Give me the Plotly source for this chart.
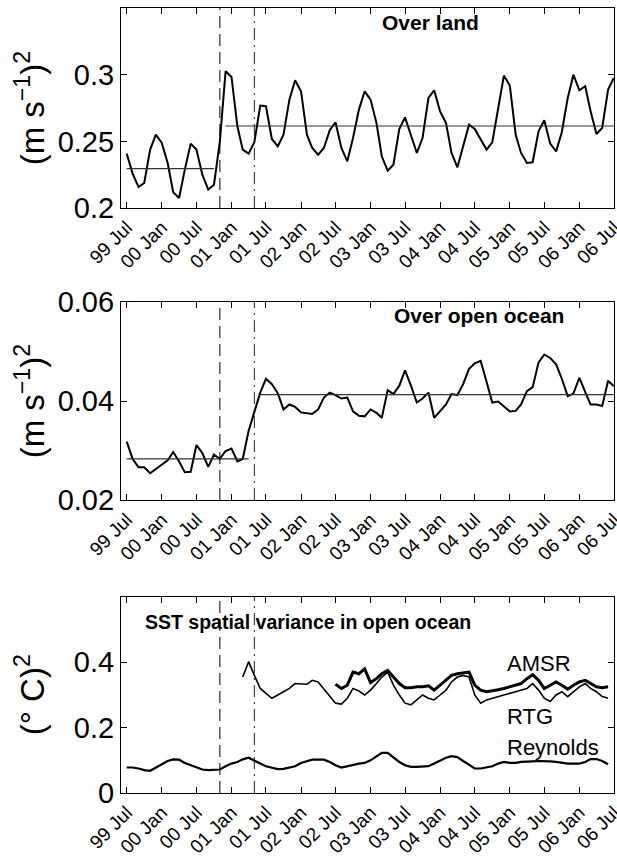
import pandas as pd
import plotly.graph_objects as go
from plotly.subplots import make_subplots

# ---------------- data ----------------
months = pd.date_range("1999-07-01", periods=85, freq="MS")

land = [0.2408, 0.2258, 0.2158, 0.2188, 0.2438, 0.2550, 0.2488, 0.2338, 0.2118, 0.2075,
        0.2288, 0.2483, 0.2438, 0.2250, 0.2138, 0.2175, 0.2500, 0.3025, 0.2983, 0.2613,
        0.2438, 0.2408, 0.2493, 0.2768, 0.2763, 0.2518, 0.2463, 0.2550, 0.2813, 0.2958,
        0.2875, 0.2550, 0.2450, 0.2400, 0.2450, 0.2583, 0.2643, 0.2450, 0.2350, 0.2525,
        0.2738, 0.2875, 0.2813, 0.2638, 0.2388, 0.2280, 0.2325, 0.2593, 0.2680, 0.2538,
        0.2413, 0.2525, 0.2825, 0.2883, 0.2725, 0.2638, 0.2413, 0.2305, 0.2463, 0.2625,
        0.2593, 0.2513, 0.2438, 0.2493, 0.2738, 0.2993, 0.2918, 0.2550, 0.2413, 0.2338,
        0.2343, 0.2575, 0.2658, 0.2483, 0.2425, 0.2568, 0.2825, 0.3000, 0.2883, 0.2913,
        0.2725, 0.2555, 0.2600, 0.2888, 0.2975]

ocean = [0.0318, 0.0283, 0.0266, 0.0266, 0.0254, 0.0263, 0.0271, 0.0280, 0.0297, 0.0278,
         0.0256, 0.0257, 0.0311, 0.0295, 0.0267, 0.0292, 0.0283, 0.0299, 0.0304, 0.0278,
         0.0283, 0.0340, 0.0378, 0.0417, 0.0445, 0.0434, 0.0416, 0.0383, 0.0393, 0.0388,
         0.0377, 0.0375, 0.0374, 0.0383, 0.0407, 0.0417, 0.0412, 0.0405, 0.0407, 0.0379,
         0.0370, 0.0369, 0.0383, 0.0376, 0.0366, 0.0422, 0.0414, 0.0431, 0.0462, 0.0431,
         0.0397, 0.0405, 0.0417, 0.0366, 0.0379, 0.0393, 0.0414, 0.0412, 0.0434, 0.0465,
         0.0476, 0.0481, 0.0439, 0.0397, 0.0399, 0.0390, 0.0379, 0.0380, 0.0393, 0.0420,
         0.0428, 0.0478, 0.0494, 0.0487, 0.0474, 0.0445, 0.0410, 0.0415, 0.0447, 0.0418,
         0.0393, 0.0393, 0.0390, 0.0441, 0.0430]

reynolds = [0.078, 0.078, 0.075, 0.070, 0.068, 0.078, 0.090, 0.098, 0.103, 0.102,
            0.092, 0.085, 0.077, 0.072, 0.070, 0.070, 0.072, 0.082, 0.090, 0.095,
            0.103, 0.108, 0.098, 0.090, 0.082, 0.077, 0.073, 0.074, 0.077, 0.082,
            0.092, 0.098, 0.102, 0.102, 0.102, 0.095, 0.085, 0.078, 0.082, 0.088,
            0.090, 0.092, 0.100, 0.112, 0.123, 0.123, 0.110, 0.095, 0.085, 0.080,
            0.080, 0.080, 0.082, 0.090, 0.100, 0.108, 0.113, 0.110, 0.098, 0.085,
            0.075, 0.075, 0.078, 0.082, 0.090, 0.095, 0.092, 0.092, 0.095, 0.095,
            0.097, 0.098, 0.098, 0.097, 0.095, 0.092, 0.090, 0.090, 0.090, 0.095,
            0.104, 0.104, 0.098, 0.088]

rtg_start = 20  # month index of first RTG value
rtg = [0.355, 0.402, 0.360, 0.320, 0.305, 0.290, 0.300, 0.310, 0.320, 0.335,
       0.335, 0.333, 0.345, 0.340, 0.318, 0.295, 0.275, 0.272, 0.290, 0.320,
       0.312, 0.300, 0.315, 0.335, 0.355, 0.370, 0.330, 0.300, 0.275, 0.270,
       0.285, 0.300, 0.290, 0.285, 0.300, 0.315, 0.340, 0.355, 0.360, 0.355,
       0.300, 0.275, 0.285, 0.290, 0.295, 0.300, 0.305, 0.310, 0.315, 0.320,
       0.335, 0.315, 0.290, 0.280, 0.300, 0.310, 0.295, 0.310, 0.325, 0.335,
       0.320, 0.310, 0.295, 0.290]

amsr_start = 36  # month index of first AMSR value
amsr = [0.333, 0.320, 0.330, 0.370, 0.365, 0.380, 0.338, 0.350, 0.365, 0.375,
        0.355, 0.335, 0.322, 0.322, 0.325, 0.325, 0.328, 0.315, 0.330, 0.345,
        0.360, 0.365, 0.368, 0.370, 0.330, 0.315, 0.310, 0.312, 0.316, 0.320,
        0.325, 0.330, 0.335, 0.350, 0.362, 0.345, 0.320, 0.330, 0.340, 0.330,
        0.318, 0.330, 0.340, 0.345, 0.335, 0.325, 0.322, 0.325]

# period means (value, start month, end month)
land_means = [(0.2295, "1999-07-01", "2000-10-01"), (0.2615, "2000-12-01", "2006-07-01")]
ocean_means = [(0.0283, "1999-07-01", "2001-04-01"), (0.0413, "2001-06-01", "2006-07-01")]

event_dashed = "2000-11-01"
event_dashdot = "2001-05-01"

tick_dates = pd.date_range("1999-07-01", "2006-07-01", freq="6MS")
tick_text = ["99 Jul", "00 Jan", "00 Jul", "01 Jan", "01 Jul", "02 Jan", "02 Jul",
             "03 Jan", "03 Jul", "04 Jan", "04 Jul", "05 Jan", "05 Jul", "06 Jan", "06 Jul"]

# ---------------- figure ----------------
FONT = "Liberation Sans, Arial, Helvetica, sans-serif"
fig = make_subplots(rows=3, cols=1)

def line(x, y, row, width=2.0, color="black"):
    fig.add_trace(go.Scatter(x=list(x), y=y, mode="lines",
                             line=dict(color=color, width=width), showlegend=False,
                             hoverinfo="skip"), row=row, col=1)

line(months, land, 1)
for v, a, b in land_means:
    line([a, b], [v, v], 1, width=1.2, color="#333333")

line(months, ocean, 2)
for v, a, b in ocean_means:
    line([a, b], [v, v], 2, width=1.2, color="#333333")

line(months[:len(reynolds)], reynolds, 3, width=2.2)
line(months[rtg_start:rtg_start + len(rtg)], rtg, 3, width=1.6)
line(months[amsr_start:amsr_start + len(amsr)], amsr, 3, width=3.0)

domains = [[0.7452, 1.0], [0.3732, 0.6255], [0.0, 0.2497]]
yranges = [[0.2, 0.35], [0.02, 0.06], [0.0, 0.6]]
yticks = [[0.2, 0.25, 0.3], [0.02, 0.04, 0.06], [0, 0.2, 0.4]]
yticktext = [["0.2", "0.25", "0.3"], ["0.02", "0.04", "0.06"], ["0", "0.2", "0.4"]]

for i in range(3):
    xa = "xaxis" if i == 0 else f"xaxis{i+1}"
    ya = "yaxis" if i == 0 else f"yaxis{i+1}"
    fig.layout[xa].update(
        type="date", range=["1999-06-01", "2006-07-02"], automargin=False,
        tickvals=list(tick_dates), ticktext=tick_text, tickangle=-45,
        ticklabeloverflow="allow",
        ticks="inside", ticklen=6, tickcolor="black", tickwidth=1,
        showline=True, linecolor="black", linewidth=1.2, mirror="ticks",
        showgrid=False, zeroline=False,
        tickfont=dict(family=FONT, size=19, color="black"))
    fig.layout[ya].update(
        domain=domains[i], range=yranges[i], tickvals=yticks[i], ticktext=yticktext[i],
        automargin=False,
        ticks="inside", ticklen=6, tickcolor="black", tickwidth=1,
        showline=True, linecolor="black", linewidth=1.2, mirror="ticks",
        showgrid=False, zeroline=False,
        tickfont=dict(family=FONT, size=29, color="black"))
    xr = "x" if i == 0 else f"x{i+1}"
    yr = "y domain" if i == 0 else f"y{i+1} domain"
    fig.add_shape(type="line", xref=xr, yref=yr, x0=event_dashed, x1=event_dashed,
                  y0=0, y1=1, line=dict(color="black", width=1, dash="12px,6px"))
    fig.add_shape(type="line", xref=xr, yref=yr, x0=event_dashdot, x1=event_dashdot,
                  y0=0, y1=1, line=dict(color="#222222", width=1, dash="12px,5px,2px,5px"))

# panel titles
titles = [("Over land", 0.627, 0.93, 1, 21), ("Over open ocean", 0.727, 0.93, 2, 21),
          ("SST spatial variance in open ocean", 0.379, 0.872, 3, 19.5)]
for txt, xx, yy, r, fs in titles:
    xr = "x domain" if r == 1 else f"x{r} domain"
    yr = "y domain" if r == 1 else f"y{r} domain"
    fig.add_annotation(text=f"<b>{txt}</b>", x=xx, y=yy, xref=xr, yref=yr,
                       xanchor="center", yanchor="middle",
                       showarrow=False, font=dict(family=FONT, size=fs, color="black"))

# y-axis labels
ylabels = [("(m s<sup>−1</sup>)<sup>2</sup>", 1), ("(m s<sup>−1</sup>)<sup>2</sup>", 2),
           ("(° C)<sup>2</sup>", 3)]
for txt, r in ylabels:
    yr = "y domain" if r == 1 else f"y{r} domain"
    fig.add_annotation(text=txt, x=-0.184, y=0.5, xref="paper", yref=yr, textangle=-90,
                       showarrow=False, xanchor="center", yanchor="middle",
                       font=dict(family=FONT, size=33, color="black"))

# series labels
for txt, xd, yv in [("AMSR", "2004-12-05", 0.395), ("RTG", "2004-12-05", 0.235),
                    ("Reynolds", "2004-12-05", 0.14)]:
    fig.add_annotation(text=txt, x=xd, y=yv, xref="x3", yref="y3", showarrow=False,
                       xanchor="left", yanchor="middle",
                       font=dict(family=FONT, size=22, color="black"))

fig.update_layout(width=617, height=859, margin=dict(l=121, r=3, t=8, b=66),
                  paper_bgcolor="white", plot_bgcolor="white", showlegend=False)

fig.write_html("out.html")
